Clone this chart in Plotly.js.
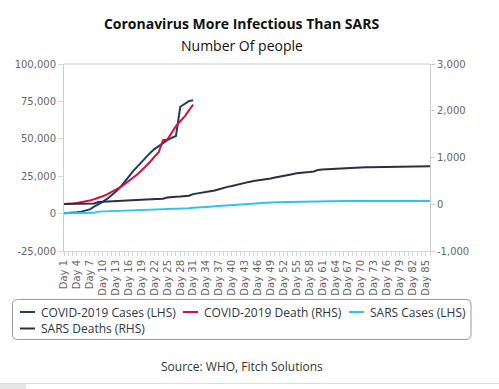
<!DOCTYPE html>
<html>
<head>
<meta charset="utf-8">
<script src="https://cdn.plot.ly/plotly-3.0.1.min.js"></script>
<style>
  html, body { margin: 0; padding: 0; background: #fff; }
  #chart { width: 499px; height: 389px; }
</style>
</head>
<body>
<div id="chart"></div>
<script>
// ---- Data ----
const days = [1,2,3,4,5,6,7,8,9,10,11,12,13,14,15,16,17,18,19,20,21,22,23,24,25,26,27,28,29,30,
  31,32,33,34,35,36,37,38,39,40,41,42,43,44,45,46,47,48,49,50,51,52,53,54,55,56,57,58,59,60,
  61,62,63,64,65,66,67,68,69,70,71,72,73,74,75,76,77,78,79,80,81,82,83,84,85,86];

const covidCases = [282,314,581,846,1320,2014,2798,4593,6065,7818,9826,11953,14557,17391,20630,
  24554,28276,31481,34886,37558,40554,43103,45171,46997,49053,50580,51857,71429,73332,75204,75748];

const covidDeaths = [6,6,17,25,41,56,80,106,132,170,213,259,304,361,425,490,563,636,722,811,
  908,1016,1113,1369,1383,1526,1669,1775,1873,2009,2129];

const sarsCases = [167,219,264,306,350,386,456,487,1323,1408,1485,1550,1622,1804,2223,2270,2353,
  2416,2601,2671,2722,2781,2890,2960,3169,3235,3293,3389,3461,3547,3861,3947,4288,4439,4649,4836,
  5050,5462,5663,5865,6054,6234,6583,6727,6903,7053,7183,7296,7447,7548,7628,7699,7761,7864,7919,
  7956,8046,8114,8202,8221,8240,8273,8295,8325,8360,8384,8402,8403,8404,8421,8422,8429,8445,8454,
  8460,8461,8462,8456,8459,8460,8461,8422,8437,8439,8437,8437];

const sarsDeaths = [4,4,9,10,10,11,17,17,49,53,53,54,58,62,78,79,84,89,98,103,106,111,116,119,144,
  159,159,165,170,182,217,229,251,263,274,293,321,353,372,391,417,435,461,478,495,506,514,526,552,
  573,587,602,623,643,662,666,682,689,702,735,745,750,755,764,774,775,779,781,784,784,789,791,792,
  792,799,801,804,804,805,807,808,811,812,812,813,813];

const seriesNames = ['COVID-2019 Cases (LHS)', 'COVID-2019 Death (RHS)', 'SARS Cases (LHS)', 'SARS Deaths (RHS)'];
const seriesColors = ['#1c3b6c', '#d5103c', '#2fc3f2', '#2b2e44'];

const xTickVals = [1,4,7,10,13,16,19,22,25,28,31,34,37,40,43,46,49,52,55,58,61,64,67,70,73,76,79,82,85];
const xTickText = xTickVals.map(d => 'Day ' + d);
const yLeftVals = [-25000, 0, 25000, 50000, 75000, 100000];
const yLeftText = ['-25,000', '0', '25,000', '50,000', '75,000', '100,000'];
const yRightVals = [-1000, 0, 1000, 2000, 3000];
const yRightText = ['-1,000', '0', '1,000', '2,000', '3,000'];

// ---- Layout geometry ----
const WIDTH = 499, HEIGHT = 389;
const M = { l: 64, r: 69, t: 64, b: 138 };
const PW = WIDTH - M.l - M.r, PH = HEIGHT - M.t - M.b;
const px = x => (x - M.l) / PW;
const py = y => (HEIGHT - M.b - y) / PH;

const tickFont = { family: 'DejaVu Sans, sans-serif', size: 10, color: '#666666' };
const textFont = 'Open Sans, sans-serif';

const traces = [
  { x: days.slice(0, covidCases.length), y: covidCases, name: seriesNames[0], yaxis: 'y',
    type: 'scatter', mode: 'lines', line: { color: seriesColors[0], width: 2 } },
  { x: days.slice(0, covidDeaths.length), y: covidDeaths, name: seriesNames[1], yaxis: 'y2',
    type: 'scatter', mode: 'lines', line: { color: seriesColors[1], width: 2 } },
  { x: days, y: sarsCases, name: seriesNames[2], yaxis: 'y',
    type: 'scatter', mode: 'lines', line: { color: seriesColors[2], width: 2 } },
  { x: days, y: sarsDeaths, name: seriesNames[3], yaxis: 'y2',
    type: 'scatter', mode: 'lines', line: { color: seriesColors[3], width: 2 } }
];

// custom legend (box, swatches, labels)
const legendItems = [
  { sx: 20, tx: 41, y: 312 },
  { sx: 183, tx: 204, y: 312 },
  { sx: 349, tx: 370, y: 312 },
  { sx: 20, tx: 41, y: 328.5 }
];

function roundRectPath(x0, y0, x1, y1, r) {
  const X = v => px(v), Y = v => py(v);
  return 'M' + X(x0 + r) + ',' + Y(y0) +
    ' L' + X(x1 - r) + ',' + Y(y0) +
    ' Q' + X(x1) + ',' + Y(y0) + ' ' + X(x1) + ',' + Y(y0 + r) +
    ' L' + X(x1) + ',' + Y(y1 - r) +
    ' Q' + X(x1) + ',' + Y(y1) + ' ' + X(x1 - r) + ',' + Y(y1) +
    ' L' + X(x0 + r) + ',' + Y(y1) +
    ' Q' + X(x0) + ',' + Y(y1) + ' ' + X(x0) + ',' + Y(y1 - r) +
    ' L' + X(x0) + ',' + Y(y0 + r) +
    ' Q' + X(x0) + ',' + Y(y0) + ' ' + X(x0 + r) + ',' + Y(y0) + ' Z';
}

const shapes = [
  // top border of plot
  { type: 'line', xref: 'paper', yref: 'paper', x0: 0, x1: 1, y0: 1, y1: 1,
    line: { color: '#cccccc', width: 1 } },
  // legend box
  { type: 'path', xref: 'paper', yref: 'paper', path: roundRectPath(12.5, 299.5, 471, 339.5, 5),
    line: { color: '#999999', width: 1 }, fillcolor: 'rgba(0,0,0,0)' },
  // bottom separator line and block
  { type: 'line', xref: 'paper', yref: 'paper', x0: px(0), x1: px(WIDTH), y0: py(383.5), y1: py(383.5),
    line: { color: '#dddddd', width: 1 } },
  { type: 'rect', xref: 'paper', yref: 'paper', x0: px(0), x1: px(26), y0: py(384), y1: py(389),
    line: { width: 0 }, fillcolor: '#e6e6e6' }
];
legendItems.forEach((it, i) => {
  shapes.push({ type: 'line', xref: 'paper', yref: 'paper', x0: px(it.sx), x1: px(it.sx + 15),
    y0: py(it.y), y1: py(it.y), line: { color: seriesColors[i], width: 2 } });
});

const annotations = [
  { text: 'Number Of people', xref: 'paper', yref: 'paper', x: px(242), y: py(45),
    xanchor: 'center', yanchor: 'middle', showarrow: false,
    font: { family: textFont, size: 14, color: '#111111' } },
  { text: 'Source: WHO, Fitch Solutions', xref: 'paper', yref: 'paper', x: px(241.5), y: py(366),
    xanchor: 'center', yanchor: 'middle', showarrow: false,
    font: { family: textFont, size: 12, color: '#333333' } }
];
legendItems.forEach((it, i) => {
  annotations.push({ text: seriesNames[i], xref: 'paper', yref: 'paper', x: px(it.tx - 1), y: py(it.y),
    xanchor: 'left', yanchor: 'middle', showarrow: false, borderpad: 0,
    font: { family: textFont, size: 12, color: '#2e3545' } });
});

const layout = {
  width: WIDTH, height: HEIGHT,
  margin: M,
  paper_bgcolor: '#ffffff', plot_bgcolor: '#ffffff',
  showlegend: false,
  title: { text: 'Coronavirus More Infectious Than SARS', xref: 'container', yref: 'container',
    x: 0.484, xanchor: 'center', y: 1 - 24 / HEIGHT, yanchor: 'middle',
    font: { family: textFont, size: 14, weight: 'bold', color: '#111111' } },
  xaxis: {
    type: 'linear', range: [1, 86], showgrid: false, zeroline: false,
    showline: true, linecolor: '#ccd6eb', linewidth: 1,
    ticks: 'outside', ticklen: 4, tickcolor: '#ccd6eb',
    tickmode: 'array', tickvals: xTickVals, ticktext: xTickText, tickangle: -90,
    tickfont: tickFont,
    minor: { tickmode: 'linear', tick0: 1, dtick: 1, ticks: 'outside', ticklen: 4, tickcolor: '#ccd6eb', showgrid: false }
  },
  yaxis: {
    range: [-25000, 100000], showgrid: false, zeroline: false,
    showline: true, linecolor: '#cccccc', linewidth: 1,
    ticks: 'outside', ticklen: 5, tickcolor: '#ccd6eb',
    tickmode: 'array', tickvals: yLeftVals, ticktext: yLeftText, tickfont: tickFont
  },
  yaxis2: {
    overlaying: 'y', side: 'right',
    range: [-1000, 3000], showgrid: false, zeroline: false,
    showline: true, linecolor: '#cccccc', linewidth: 1,
    ticks: 'outside', ticklen: 4, tickcolor: '#cccccc',
    tickmode: 'array', tickvals: yRightVals, ticktext: yRightText, tickfont: tickFont
  },
  shapes: shapes,
  annotations: annotations
};

Plotly.newPlot('chart', traces, layout, { displayModeBar: false, staticPlot: true });
</script>
</body>
</html>
